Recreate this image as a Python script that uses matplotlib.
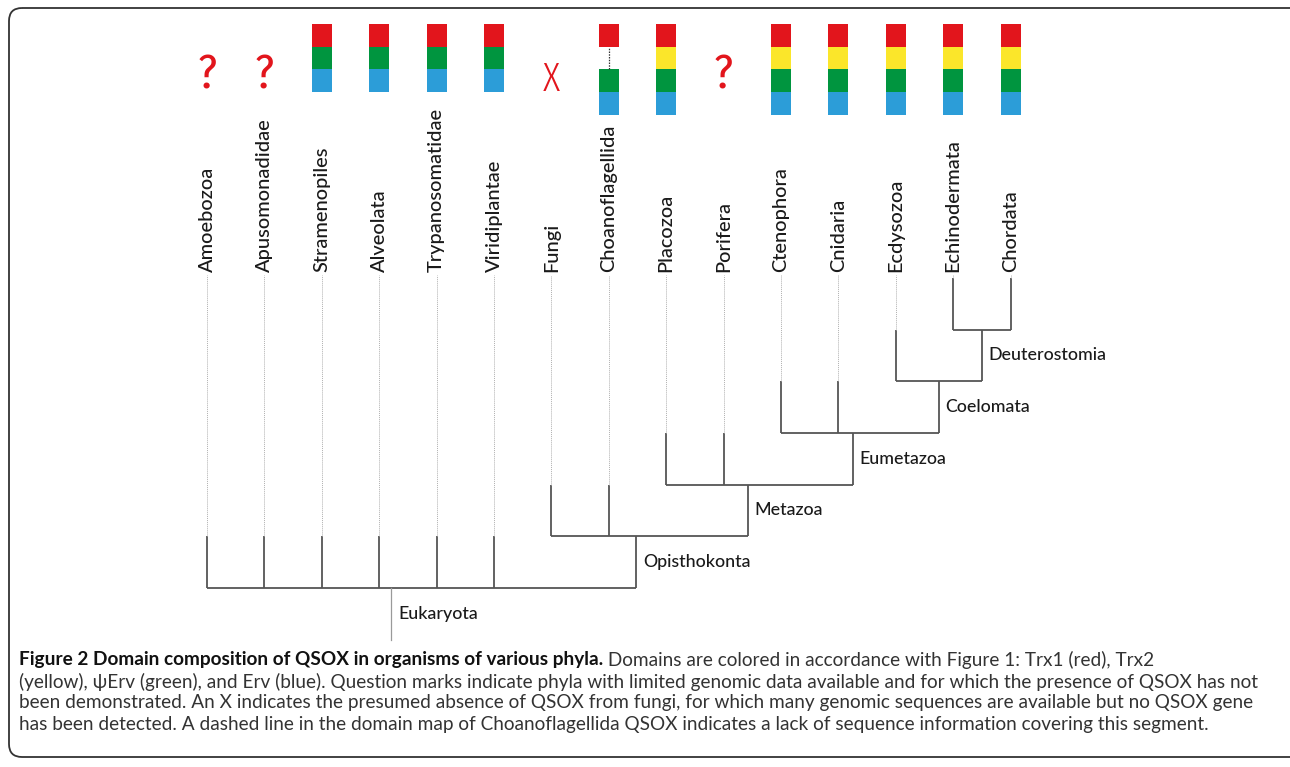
import numpy as np
import matplotlib.pyplot as plt
from matplotlib.patches import FancyBboxPatch

# taxa along the top, left to right
leaves = ["Amoebozoa", "Apusomonadidae", "Stramenopiles", "Alveolata",
          "Trypanosomatidae", "Viridiplantae", "Fungi", "Choanoflagellida",
          "Placozoa", "Porifera", "Ctenophora", "Cnidaria", "Ecdysozoa",
          "Echinodermata", "Chordata"]

# QSOX domain maps: R=Trx1, Y=Trx2, G=psiErv, B=Erv, '-'=missing sequence
domains = ["?", "?", "RGB", "RGB", "RGB", "RGB", "X", "R-GB",
           "RYGB", "?", "RYGB", "RYGB", "RYGB", "RYGB", "RYGB"]

# clades (name, children) and their depth in the tree
clades = [
    ("Deuterostomia", ["Echinodermata", "Chordata"]),
    ("Coelomata", ["Ecdysozoa", "Deuterostomia"]),
    ("Eumetazoa", ["Ctenophora", "Cnidaria", "Coelomata"]),
    ("Metazoa", ["Placozoa", "Porifera", "Eumetazoa"]),
    ("Opisthokonta", ["Fungi", "Choanoflagellida", "Metazoa"]),
    ("Eukaryota", ["Amoebozoa", "Apusomonadidae", "Stramenopiles", "Alveolata",
                   "Trypanosomatidae", "Viridiplantae", "Opisthokonta"]),
]
clade_level = {"Eukaryota": 0, "Opisthokonta": 1, "Metazoa": 2,
               "Eumetazoa": 3, "Coelomata": 4, "Deuterostomia": 5}

dom_colors = {"R": "#e2151c", "Y": "#fbe62a", "G": "#00953f", "B": "#2c9dd8"}

caption_bold = "Figure 2 Domain composition of QSOX in organisms of various phyla."
caption_lines = [
    " Domains are colored in accordance with Figure 1: Trx1 (red), Trx2",
    "(yellow), \u03c8Erv (green), and Erv (blue). Question marks indicate phyla with limited genomic data available and for which the presence of QSOX has not",
    "been demonstrated. An X indicates the presumed absence of QSOX from fungi, for which many genomic sequences are available but no QSOX gene",
    "has been detected. A dashed line in the domain map of Choanoflagellida QSOX indicates a lack of sequence information covering this segment.",
]

SANS = ["Lato", "DejaVu Sans"]
NARROW = ["Fira Sans Extra Condensed", "DejaVu Sans"]

W, H = 1290, 767
fig = plt.figure(figsize=(W / 100, H / 100), dpi=100)
renderer = fig.canvas.get_renderer()


def fit_size(text, target_px, **kw):
    # font size that makes the text run target_px wide
    t = fig.text(0, 0, text, fontsize=10, **kw)
    w = t.get_window_extent(renderer).width
    t.remove()
    return 10 * target_px / w


# frame + caption axes in pixel units
fax = fig.add_axes([0, 0, 1, 1])
fax.set_xlim(0, W)
fax.set_ylim(H, 0)
fax.axis("off")
fax.add_patch(FancyBboxPatch((9, 8), W + 20, 749,
                             boxstyle="round,pad=0,rounding_size=13",
                             fc="none", ec="#333333", lw=1.3))

# tree axes: x in leaf index, y in tree levels
ax = fig.add_axes([0, 0, 1, 1])
ax.patch.set_alpha(0)
dx, dy = 57.4, 51.7
ax.set_xlim(-207 / dx, (W - 207) / dx)
ax.set_ylim((588 - H) / dy, 588 / dy)
ax.axis("off")

tip_level = 6.05
line_kw = dict(color="#555555", lw=1.3, solid_capstyle="butt")
dot_kw = dict(color="#b0b0b0", lw=0.7, ls=(0, (1, 1)))

lab_kw = dict(family=SANS, fontweight="medium")
leaf_fs = fit_size("Trypanosomatidae", 165, **lab_kw)
clade_fs = fit_size("Deuterostomia", 118, **lab_kw)

xpos = {name: i for i, name in enumerate(leaves)}
for name, kids in clades:
    xpos[name] = np.mean([xpos[k] for k in kids])

for name, kids in clades:
    lev = clade_level[name]
    xs = [xpos[k] for k in kids]
    ax.plot([min(xs), max(xs)], [lev, lev], **line_kw)
    for k in kids:
        ax.plot([xpos[k], xpos[k]], [lev, lev + 1], **line_kw)
        if k in leaves:
            ax.plot([xpos[k], xpos[k]], [lev + 1, tip_level], **dot_kw)
    ax.text(xpos[name] + 0.12, lev - 0.5, name, ha="left", va="center",
            fontsize=clade_fs, color="#1a1a1a", **lab_kw)

# root stem
ax.plot([xpos["Eukaryota"]] * 2, [0, -1.0], color="#9a9a9a", lw=0.9)

# leaf labels
for name in leaves:
    ax.text(xpos[name], tip_level + 0.07, name, rotation=90, ha="center",
            va="bottom", fontsize=leaf_fs, color="#1a1a1a", **lab_kw)

# domain maps
top = (588 - 24) / dy
seg = 22.7 / dy
bw = 20 / dx
for name, dm in zip(leaves, domains):
    x = xpos[name]
    if dm == "?":
        ax.text(x, (588 - 75) / dy, "?", ha="center", va="center", fontsize=35,
                family=NARROW, fontstretch="condensed", fontweight="normal",
                color="#e2151c")
        continue
    if dm == "X":
        ax.text(x, (588 - 79) / dy, "X", ha="center", va="center", fontsize=29,
                family=NARROW, fontstretch="condensed", fontweight=300,
                color="#e2151c")
        continue
    for j, d in enumerate(dm):
        y0 = top - (j + 1) * seg
        if d == "-":
            ax.plot([x, x], [y0, y0 + seg], color="#333333", lw=0.9, ls=(0, (1.2, 1)))
        else:
            ax.bar(x, seg, bottom=y0, width=bw, color=dom_colors[d], lw=0)

# caption
cap_fs = fit_size(caption_lines[1], 1238, family=SANS)
cap_kw = dict(fontsize=cap_fs, family=SANS, va="center", ha="left")
t0 = fax.text(19, 660, caption_bold, fontweight="bold", color="#111111", **cap_kw)
fax.annotate(caption_lines[0], xy=(1, 0.5), xycoords=t0, color="#333333", **cap_kw)
for i, line in enumerate(caption_lines[1:]):
    fax.text(19, 681.5 + 21.3 * i, line, color="#333333", **cap_kw)

fig.savefig("out.png", dpi=100)
